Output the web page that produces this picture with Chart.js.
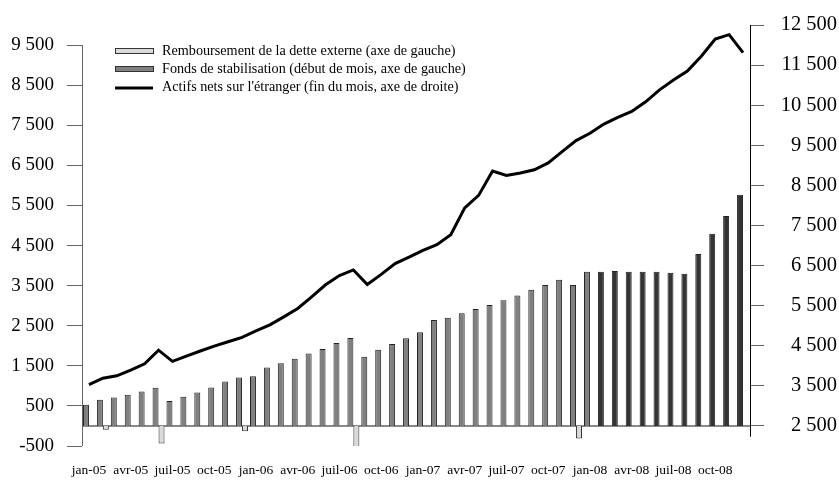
<!DOCTYPE html>
<html>
<head>
<meta charset="utf-8">
<script src="https://cdn.jsdelivr.net/npm/chart.js@4/dist/chart.umd.min.js"></script>
<style>
  html, body { margin: 0; padding: 0; background: #fff; }
  #wrap { width: 839px; height: 480px; }
</style>
</head>
<body>
<div id="wrap"><canvas id="chart"></canvas></div>
<script>
// ============================================
// DATA
// ============================================

const months = [
    'jan-05', 'fév-05', 'mars-05', 'avr-05', 'mai-05', 'juin-05', 'juil-05', 'août-05', 'sept-05', 'oct-05', 'nov-05', 'déc-05',
    'jan-06', 'fév-06', 'mars-06', 'avr-06', 'mai-06', 'juin-06', 'juil-06', 'août-06', 'sept-06', 'oct-06', 'nov-06', 'déc-06',
    'jan-07', 'fév-07', 'mars-07', 'avr-07', 'mai-07', 'juin-07', 'juil-07', 'août-07', 'sept-07', 'oct-07', 'nov-07', 'déc-07',
    'jan-08', 'fév-08', 'mars-08', 'avr-08', 'mai-08', 'juin-08', 'juil-08', 'août-08', 'sept-08', 'oct-08', 'nov-08', 'déc-08'
];

// Fonds de stabilisation (left axis)
const stabFund = [
    530, 654, 711, 778, 860, 952, 620, 728, 835, 960, 1109, 1209,
    1240, 1458, 1565, 1674, 1806, 1922, 2072, 2196, 1724, 1898, 2047, 2187,
    2336, 2644, 2701, 2809, 2918, 3017, 3132, 3256, 3398, 3514, 3647, 3514,
    3846, 3846, 3863, 3846, 3846, 3846, 3821, 3796, 4286, 4791, 5239, 5769
];

// Remboursement de la dette externe (left axis)
const debtRepayment = [
    null, -92, null, null, null, -440, null, null, null, null, -12, -130,
    null, null, null, null, null, null, null, -624, null, null, null, -12,
    null, -12, null, null, null, null, null, null, null, -12, null, -316,
    null, null, null, null, null, null, null, null, null, null, null, null
];

// Actifs nets sur l'étranger (right axis)
const netAssets = [
    3530, 3690, 3750, 3890, 4050, 4390, 4110, 4240, 4370, 4490, 4600, 4710,
    4870, 5020, 5220, 5430, 5720, 6020, 6250, 6390, 6030, 6280, 6550, 6710,
    6880, 7020, 7270, 7940, 8250, 8860, 8750, 8810, 8890, 9060, 9344, 9617,
    9800, 10029, 10198, 10343, 10585, 10882, 11129, 11350, 11720, 12150, 12260, 11809
];

const leftTicks = [-500, 500, 1500, 2500, 3500, 4500, 5500, 6500, 7500, 8500, 9500];
const rightTicks = [2500, 3500, 4500, 5500, 6500, 7500, 8500, 9500, 10500, 11500, 12500];

const legendLabels = [
    'Remboursement de la dette externe (axe de gauche)',
    'Fonds de stabilisation (début de mois, axe de gauche)',
    "Actifs nets sur l'étranger (fin du mois, axe de droite)"
];

const SERIF = "'Liberation Serif', 'Times New Roman', serif";
const REPAY_FILL = '#d9d9d9';
const STAB_FILL = '#7f7f7f';
const STAB_FILL_2008 = '#333333';

// stabilisation bars turn dark from fév-08 on
const stabColors = stabFund.map((_, i) => i >= 37 ? STAB_FILL_2008 : STAB_FILL);

function fmt(v) {
    const s = Math.abs(v).toString();
    const t = s.length > 3 ? s.slice(0, -3) + ' ' + s.slice(-3) : s;
    return (v < 0 ? '-' : '') + t;
}

// ============================================
// PLUGINS
// ============================================

// zero line and the two axis lines
const axisLines = {
    id: 'axisLines',
    beforeDatasetsDraw(chart) {
        const { ctx, chartArea } = chart;
        const yL = chart.scales.yLeft;
        const y0 = yL.getPixelForValue(0);
        ctx.save();
        ctx.strokeStyle = '#8a8a8a';
        ctx.lineWidth = 2;
        ctx.beginPath();
        ctx.moveTo(chartArea.left, y0);
        ctx.lineTo(chartArea.right, y0);
        ctx.stroke();
        ctx.restore();
    },
    afterDraw(chart) {
        const { ctx, chartArea } = chart;
        const yL = chart.scales.yLeft;
        const yR = chart.scales.yRight;
        ctx.save();
        ctx.lineWidth = 1;
        ctx.strokeStyle = '#666';
        ctx.beginPath();
        ctx.moveTo(chartArea.left + 0.5, yL.getPixelForValue(9500));
        ctx.lineTo(chartArea.left + 0.5, yL.getPixelForValue(-500));
        ctx.stroke();
        ctx.strokeStyle = '#000';
        ctx.beginPath();
        ctx.moveTo(chartArea.right + 0.5, yR.getPixelForValue(12500));
        ctx.lineTo(chartArea.right + 0.5, yR.getPixelForValue(2230));
        ctx.stroke();
        ctx.restore();
    }
};

// legend inside the plot, top left
const innerLegend = {
    id: 'innerLegend',
    afterDraw(chart) {
        const { ctx } = chart;
        const x = 115, w = 38, textX = 162;
        const rows = [51, 69, 87];
        ctx.save();
        ctx.font = '14.2px ' + SERIF;
        ctx.textBaseline = 'middle';
        ctx.textAlign = 'left';

        ctx.fillStyle = REPAY_FILL;
        ctx.fillRect(x, rows[0] - 2.5, w, 5);
        ctx.strokeStyle = '#333';
        ctx.lineWidth = 1;
        ctx.strokeRect(x + 0.5, rows[0] - 2.5, w, 5);

        ctx.fillStyle = STAB_FILL;
        ctx.fillRect(x, rows[1] - 2.5, w, 5);
        ctx.strokeRect(x + 0.5, rows[1] - 2.5, w, 5);

        ctx.strokeStyle = '#000';
        ctx.lineWidth = 3;
        ctx.beginPath();
        ctx.moveTo(x, rows[2] + 1);
        ctx.lineTo(x + w, rows[2] + 1);
        ctx.stroke();

        ctx.fillStyle = '#000';
        legendLabels.forEach((t, i) => ctx.fillText(t, textX, rows[i]));
        ctx.restore();
    }
};

// ============================================
// CHART
// ============================================

const ctx = document.getElementById('chart');

new Chart(ctx, {
    type: 'bar',
    data: {
        labels: months,
        datasets: [
            {
                type: 'line',
                label: legendLabels[2],
                data: netAssets,
                yAxisID: 'yRight',
                borderColor: '#000',
                borderWidth: 3,
                pointRadius: 0,
                tension: 0,
                order: 0
            },
            {
                label: legendLabels[1],
                data: stabFund,
                yAxisID: 'yLeft',
                backgroundColor: stabColors,
                borderColor: '#222',
                borderWidth: 1,
                categoryPercentage: 0.86,
                barPercentage: 1.0,
                order: 1
            },
            {
                label: legendLabels[0],
                data: debtRepayment,
                yAxisID: 'yLeft',
                backgroundColor: REPAY_FILL,
                borderColor: '#333',
                borderWidth: 1,
                categoryPercentage: 0.86,
                barPercentage: 1.0,
                order: 1
            }
        ]
    },
    options: {
        responsive: true,
        maintainAspectRatio: false,
        animation: false,
        devicePixelRatio: 1,
        layout: { padding: { top: 25, left: 0, right: 2, bottom: 0 } },
        plugins: {
            legend: { display: false },
            tooltip: { enabled: false }
        },
        scales: {
            x: {
                type: 'category',
                offset: true,
                grid: { display: false, drawTicks: false },
                border: { display: false },
                afterFit: (axis) => { axis.height = 34; },
                ticks: {
                    autoSkip: false,
                    maxRotation: 0,
                    minRotation: 0,
                    padding: 16,
                    color: '#000',
                    font: { family: SERIF, size: 13.5 },
                    callback: function (val, idx) {
                        return idx % 3 === 0 ? months[idx] : '';
                    }
                }
            },
            yLeft: {
                position: 'left',
                min: -500,
                max: 10000,
                afterBuildTicks: (axis) => { axis.ticks = leftTicks.map(v => ({ value: v })); },
                afterFit: (axis) => { axis.width = 82; },
                grid: { drawOnChartArea: false, tickLength: 15, color: '#666' },
                border: { display: false },
                ticks: {
                    padding: 13,
                    color: '#000',
                    font: { family: SERIF, size: 19 },
                    callback: (v) => fmt(v)
                }
            },
            yRight: {
                position: 'right',
                min: 2000,
                max: 12500,
                afterBuildTicks: (axis) => { axis.ticks = rightTicks.map(v => ({ value: v })); },
                afterFit: (axis) => { axis.width = 87; },
                grid: { drawOnChartArea: false, tickLength: 14, color: '#666' },
                border: { display: false },
                ticks: {
                    padding: 12,
                    crossAlign: 'far',
                    color: '#000',
                    font: { family: SERIF, size: 20.5 },
                    callback: (v) => fmt(v)
                }
            }
        }
    },
    plugins: [axisLines, innerLegend]
});
</script>
</body>
</html>
